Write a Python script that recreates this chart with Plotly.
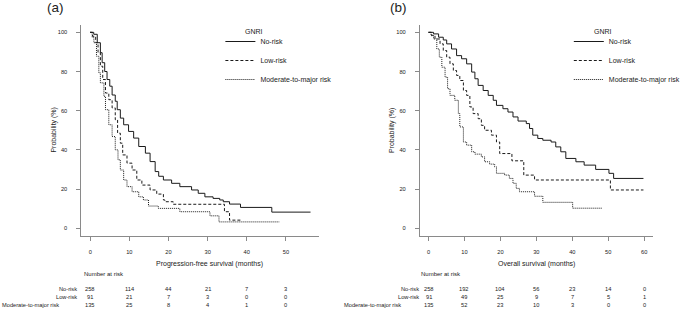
import plotly.graph_objects as go

# ---------------- data ----------------
groups = ["No-risk", "Low-risk", "Moderate-to-major risk"]
dashes = ["solid", "3px,2px", "1px,1px"]

# Panel (a): progression-free survival (months, %)
pfs_no_t = [0, 0.9, 1.8, 2.6, 3.05, 3.7, 4.3, 5.0, 5.6, 6.4, 6.9, 7.7, 8.55, 9.8, 11.1, 12.4, 14.1, 15.3, 16.6,
            17.5, 18.7, 20.8, 22.9, 25.9, 27.6, 29.3, 31.4, 33.1, 34.0, 35.6, 38.4, 46.4, 56.3]
pfs_no_s = [100, 99, 94.7, 89.6, 84.5, 80, 75.9, 72.5, 68, 64.8, 60.5, 56.2, 52.8, 49.4, 46, 41.7, 38.3, 34, 28.9,
            26.5, 24.6, 22.9, 21.2, 19.5, 17.8, 16, 15.2, 14.4, 13.5, 12.3, 10.6, 8.2, 8.2]
pfs_low_t = [0, 0.6, 1.4, 2.0, 2.6, 3.2, 3.9, 4.75, 5.6, 6.4, 7.0, 7.7, 8.3, 9.4, 10.7, 11.9, 13.2, 15.3, 17.0,
             18.7, 19.1, 21.2, 34.3, 35.6, 38.5]
pfs_low_s = [100, 98, 94.7, 89.6, 82.7, 75.9, 69, 65.6, 61.4, 55.4, 48.5, 43.4, 37.4, 33.2, 29.7, 24.6, 22, 19.5, 17.4,
             14.4, 13.5, 12.2, 8.4, 4.1, 4.1]
pfs_mod_t = [0, 0.5, 0.94, 1.6, 2.2, 2.6, 3.5, 3.9, 4.75, 5.6, 6.4, 7.1, 7.7, 8.55, 9.4, 10.7, 12.4, 13.6, 14.9,
             17.4, 22.9, 30.6, 32.9, 48.3]
pfs_mod_s = [100, 97.5, 94.7, 87.8, 79.3, 74.2, 67.3, 60.5, 52.8, 46.8, 40, 34.9, 29.7, 24.6, 21.2, 18.6, 16, 14.4,
             11.3, 10.1, 8.4, 6.3, 3.2, 3.2]

# Panel (b): overall survival (months, %)
os_no_t = [0, 1.4, 2.8, 4.1, 5.05, 6.4, 7.8, 9.2, 10.6, 12.0, 12.9, 13.8, 15.2, 16.6, 18.0, 18.9, 20.7, 22.1, 23.5,
           24.9, 27.2, 28.1, 29.0, 30.4, 31.8, 34.1, 35.4, 36.8, 38.2, 41.0, 43.3, 46.5, 50.2, 51.5, 59.8]
os_no_s = [100, 99.2, 97.5, 96.1, 94.1, 91.5, 88.1, 86.5, 83.9, 79.7, 76.3, 72.9, 70.3, 67.8, 65.3, 62.7, 61, 59.3,
           56.8, 54.7, 53.4, 50.9, 47.5, 45.8, 44.9, 44, 41.5, 39, 35.6, 33.9, 32.2, 30, 28, 25.4, 25.4]
os_low_t = [0, 0.8, 1.8, 3.2, 4.1, 5.05, 5.97, 6.9, 7.8, 8.7, 9.7, 10.6, 11.5, 12.4, 13.8, 14.7, 15.6, 17.5, 18.9,
            19.8, 23.2, 26.5, 29.5, 50.6, 59.8]
os_low_s = [100, 98.5, 96.6, 94.1, 90.7, 87.3, 83.9, 80.5, 78, 75.4, 70.3, 67.8, 61.9, 58.5, 55.9, 52.5, 50, 47.5, 44,
            38.1, 34.4, 27.1, 24.6, 19.5, 19.5]
os_mod_t = [0, 0.7, 1.4, 2.3, 3.0, 3.7, 4.6, 5.3, 5.97, 7.3, 8.3, 8.7, 9.7, 10.6, 12.0, 12.9, 14.7, 15.6, 17.0, 18.4,
            18.9, 21.2, 22.5, 23.5, 24.4, 25.3, 29.5, 31.8, 40.1, 48.3]
os_mod_s = [100, 98.3, 96.6, 91.5, 87.3, 82.2, 77.1, 71.2, 67.8, 65.3, 58.5, 51.7, 44, 42.4, 39, 37.8, 36.4, 33.9,
            32.7, 31.3, 28, 27.1, 25.4, 22.9, 20.3, 18.6, 16.3, 13.2, 10.2, 10.2]

# Numbers at risk
pfs_ticks = [0, 10, 20, 30, 40, 50]
pfs_risk_no = [258, 114, 44, 21, 7, 3]
pfs_risk_low = [91, 21, 7, 3, 0, 0]
pfs_risk_mod = [135, 25, 8, 4, 1, 0]

os_ticks = [0, 10, 20, 30, 40, 50, 60]
os_risk_no = [258, 192, 104, 56, 23, 14, 0]
os_risk_low = [91, 49, 25, 9, 7, 5, 1]
os_risk_mod = [135, 52, 23, 10, 3, 0, 0]

y_ticks = [0, 20, 40, 60, 80, 100]

# ---------------- figure ----------------
W, H = 685, 311
FONT = "Liberation Sans, Arial, Helvetica, sans-serif"
TXT = "#222222"
AX = "#8a8a8a"
SMALL = 5.7
MID = 7.0


def px(x):
    return x / W


def py(y):
    return 1 - y / H


fig = go.Figure()

panels = [
    dict(xa="x", ya="y", legend="legend",
         curves=[(pfs_no_t, pfs_no_s), (pfs_low_t, pfs_low_s), (pfs_mod_t, pfs_mod_s)]),
    dict(xa="x2", ya="y2", legend="legend2",
         curves=[(os_no_t, os_no_s), (os_low_t, os_low_s), (os_mod_t, os_mod_s)]),
]

for p in panels:
    for name, dash, (t, s) in zip(groups, dashes, p["curves"]):
        fig.add_trace(go.Scatter(
            x=t, y=s, mode="lines", name=name, xaxis=p["xa"], yaxis=p["ya"],
            line=dict(color="#1a1a1a", width=1, dash=dash, shape="hv"),
            legend=p["legend"], hoverinfo="skip",
        ))

axis_common = dict(showgrid=False, zeroline=False, showline=True, linecolor=AX, linewidth=1,
                   ticks="outside", ticklen=4, tickcolor=AX, tickwidth=1,
                   tickfont=dict(family=FONT, size=SMALL, color=TXT))

ydom = [py(236.0), py(24.5)]
fig.update_layout(
    width=W, height=H, margin=dict(l=0, r=0, t=0, b=0),
    paper_bgcolor="white", plot_bgcolor="white",
    font=dict(family=FONT, color=TXT),
    xaxis=dict(domain=[px(82), px(321.7)], range=[-2.25, 58.55], tickvals=pfs_ticks,
               anchor="y", ticklabelstandoff=6, **axis_common),
    yaxis=dict(domain=ydom, range=[-4, 104], tickvals=y_ticks, anchor="x",
               ticklabelstandoff=8, **axis_common),
    xaxis2=dict(domain=[px(423), px(657.6)], range=[-2.4, 62.4], tickvals=os_ticks,
                anchor="y2", ticklabelstandoff=6, **axis_common),
    yaxis2=dict(domain=ydom, range=[-4, 104], tickvals=y_ticks, anchor="x2",
                ticklabelstandoff=8, **axis_common),
    legend=dict(x=px(222), y=py(27), xanchor="left", yanchor="top", bgcolor="rgba(0,0,0,0)",
                font=dict(family=FONT, size=MID, color=TXT), borderwidth=0,
                itemclick=False, itemdoubleclick=False),
    legend2=dict(x=px(573), y=py(27), xanchor="left", yanchor="top", bgcolor="rgba(0,0,0,0)",
                 font=dict(family=FONT, size=MID, color=TXT), borderwidth=0,
                 itemclick=False, itemdoubleclick=False),
    showlegend=True,
)

ann = []


def text(x, y, s, size, xanchor="center", xref="paper", angle=0):
    ann.append(dict(x=x, y=y, xref=xref, yref="paper", text=s, showarrow=False,
                    xanchor=xanchor, yanchor="middle", textangle=angle,
                    font=dict(family=FONT, size=size, color=TXT)))


# panel labels
text(px(45), py(8), "(a)", 13.5, "left")
text(px(391), py(8), "(b)", 13.5, "left")
# legend titles
text(px(245), py(32), "GNRI", MID, "left")
text(px(596), py(32), "GNRI", MID, "left")
# axis titles
text(px(211), py(263.5), "Progression-free survival (months)", MID)
text(px(540), py(263.5), "Overall survival (months)", MID)
text(px(54), py(130), "Probability (%)", MID, angle=-90)
text(px(395), py(130), "Probability (%)", MID, angle=-90)
# number at risk headers
text(px(83), py(273.5), "Number at risk", 6.0, "left")
text(px(422), py(273.5), "Number at risk", 6.0, "left")

row_y = [288.5, 296.5, 304.5]
# row labels
for i, (lab, yy) in enumerate(zip(groups, row_y)):
    if i < 2:
        text(px(79.5), py(yy), lab, SMALL, "right")
        text(px(424.5), py(yy), lab, SMALL, "right")
    else:
        text(px(0), py(yy), lab, SMALL, "left")
        text(px(345), py(yy), lab, SMALL, "left")

for rows, ticks, xref in [((pfs_risk_no, pfs_risk_low, pfs_risk_mod), pfs_ticks, "x"),
                          ((os_risk_no, os_risk_low, os_risk_mod), os_ticks, "x2")]:
    for vals, yy in zip(rows, row_y):
        for t, v in zip(ticks, vals):
            text(t, py(yy), str(v), SMALL, "center", xref=xref)

fig.update_layout(annotations=ann)

fig.write_html("out.html", config={"displayModeBar": False},
               post_script="document.body.style.margin='0';document.body.style.padding='0';")
